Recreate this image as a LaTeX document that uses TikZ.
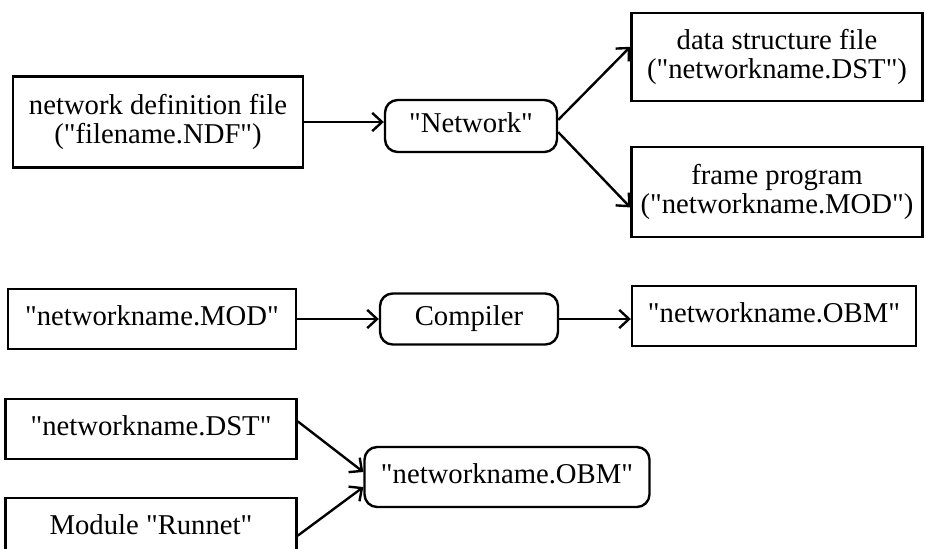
\documentclass[tikz,border=0pt]{standalone}
\usepackage{fontspec}
\setmainfont{Liberation Serif}
\usetikzlibrary{arrows.meta}
\newcommand{\dq}{\textquotedbl}
\newcommand{\lineht}{\vphantom{()}}
\begin{document}
\begin{tikzpicture}[x=0.025cm, y=-0.025cm, line width=1.7pt,
		font=\fontsize{20.4}{20}\selectfont,
		filebox/.style={draw, rectangle, align=center, inner sep=0pt},
		procbox/.style={draw, rectangle, rounded corners=9pt, align=center, inner sep=0pt},
		flow/.style={-{Straight Barb[length=7pt,width=13pt,line width=1.7pt]}}]
	\useasboundingbox (0,0) rectangle (926,548);
	\node[filebox, minimum width=290*0.025cm, minimum height=91*0.025cm] (ndf) at (158,122) {network definition file\\(\dq filename.NDF\dq)};
	\node[procbox, minimum width=172*0.025cm, minimum height=52*0.025cm] (net) at (471,126) {\dq Network\dq\lineht};
	\node[filebox, minimum width=291*0.025cm, minimum height=88*0.025cm] (dst) at (777,57) {data structure file\\(\dq networkname.DST\dq)};
	\node[filebox, minimum width=291*0.025cm, minimum height=90*0.025cm] (frame) at (777,192) {frame program\\(\dq networkname.MOD\dq)};
	\draw[flow] (ndf.east) -- (ndf.east -| net.west);
	\draw[flow] (net.4) -- (dst.176);
	\draw[flow] (net.-4) -- (frame.186);
	\node[filebox, minimum width=288*0.025cm, minimum height=60*0.025cm] (mod) at (152,319) {\dq networkname.MOD\dq\lineht};
	\node[procbox, minimum width=178*0.025cm, minimum height=51*0.025cm] (comp) at (469,319) {Compiler\lineht};
	\node[filebox, minimum width=284*0.025cm, minimum height=60*0.025cm] (obm) at (774,316) {\dq networkname.OBM\dq\lineht};
	\draw[flow] (mod.east) -- (comp.west);
	\draw[flow] (comp.east) -- (comp.east -| obm.west);
	\node[filebox, minimum width=291*0.025cm, minimum height=60*0.025cm] (dstb) at (151,429) {\dq networkname.DST\dq\lineht};
	\node[filebox, minimum width=291*0.025cm, minimum height=60*0.025cm] (runnet) at (151,528) {Module \dq Runnet\dq\lineht};
	\node[procbox, minimum width=285*0.025cm, minimum height=60*0.025cm] (obmb) at (507,477) {\dq networkname.OBM\dq\lineht};
	\draw[flow] (dstb.3.5) -- (obmb.178);
	\draw[flow] (runnet.-3.5) -- (obmb.184);
\end{tikzpicture}
\end{document}
